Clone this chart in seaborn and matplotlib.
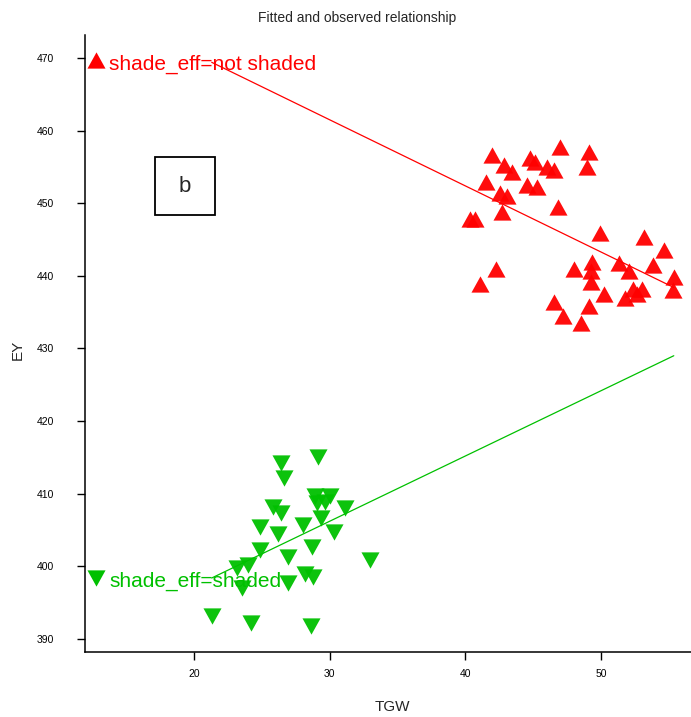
import matplotlib
matplotlib.use("Agg")
import matplotlib.pyplot as plt
from matplotlib.path import Path
from matplotlib.patches import Rectangle
import seaborn as sns
import pandas as pd

# ---- data ----
not_shaded_tgw = [41.97, 47.01, 49.10, 48.98, 44.80, 45.17, 42.83, 43.45, 46.03, 46.52,
                  41.55, 44.55, 45.29, 42.53, 43.08, 46.81, 42.71, 40.37, 40.74, 49.96,
                  53.21, 54.63, 53.82, 51.31, 49.35, 47.99, 49.23, 49.23, 52.05, 42.29,
                  41.06, 55.37, 55.30, 50.26, 52.38, 53.04, 51.81, 52.67, 46.52, 49.10,
                  47.18, 48.54]
not_shaded_ey = [456.6, 457.8, 457.1, 455.0, 456.2, 455.7, 455.3, 454.3, 455.0, 454.6,
                 452.9, 452.5, 452.3, 451.4, 451.0, 449.5, 448.8, 447.8, 447.8, 445.9,
                 445.4, 443.5, 441.5, 441.7, 441.9, 440.9, 440.6, 439.2, 440.6, 441.0,
                 438.9, 439.8, 438.1, 437.5, 438.2, 438.2, 436.9, 437.5, 436.4, 435.8,
                 434.5, 433.5]
shaded_tgw = [26.42, 29.13, 26.66, 25.81, 26.42, 28.93, 29.99, 29.08, 29.67, 31.14,
              29.35, 28.02, 24.87, 26.22, 30.28, 24.87, 28.69, 26.96, 24.01, 23.17,
              23.52, 28.19, 28.80, 26.96, 32.99, 21.31, 24.21, 28.61]
shaded_ey = [414.3, 415.0, 412.1, 408.2, 407.4, 409.7, 409.7, 408.7, 408.9, 408.0,
             406.6, 405.7, 405.4, 404.5, 404.8, 402.3, 402.6, 401.3, 400.2, 399.8,
             397.0, 399.0, 398.5, 397.7, 400.9, 393.2, 392.2, 391.8]
fit_tgw = [21.3, 55.37]
fit_not_shaded_ey = [469.4, 438.4]
fit_shaded_ey = [398.4, 429.0]

group_labels = ["shade_eff=not shaded", "shade_eff=shaded"]
x_ticks = [20, 30, 40, 50]
y_ticks = [390, 400, 410, 420, 430, 440, 450, 460, 470]

RED = "#FF0000"
GREEN = "#00C000"

sns.set_style("ticks")
plt.rcParams["font.family"] = ["Liberation Sans", "DejaVu Sans"]

up = Path([(0, 0.9), (-1, -0.9), (1, -0.9), (0, 0.9)],
          [Path.MOVETO, Path.LINETO, Path.LINETO, Path.CLOSEPOLY])
down = Path([(0, -0.9), (-1, 0.9), (1, 0.9), (0, -0.9)],
            [Path.MOVETO, Path.LINETO, Path.LINETO, Path.CLOSEPOLY])

fig = plt.figure(figsize=(6.91, 7.17), dpi=100)
ax = fig.add_axes([85 / 691, 1 - 652 / 717, 606 / 691, 617 / 717])

df_not = pd.DataFrame({"TGW": not_shaded_tgw, "EY": not_shaded_ey})
df_sh = pd.DataFrame({"TGW": shaded_tgw, "EY": shaded_ey})
fit_df = pd.DataFrame({"TGW": fit_tgw, "not": fit_not_shaded_ey, "sh": fit_shaded_ey})

sns.lineplot(data=fit_df, x="TGW", y="not", color=RED, lw=0.9, ax=ax, zorder=1)
sns.lineplot(data=fit_df, x="TGW", y="sh", color=GREEN, lw=0.9, ax=ax, zorder=1)
sns.scatterplot(data=df_not, x="TGW", y="EY", marker=up, s=169, color=RED,
                linewidth=0, alpha=0.95, ax=ax, zorder=3)
sns.scatterplot(data=df_sh, x="TGW", y="EY", marker=down, s=169, color=GREEN,
                linewidth=0, alpha=0.95, ax=ax, zorder=3)

ax.set_xlim(11.956, 56.64)
ax.set_ylim(388.21, 473.16)
ax.set_xticks(x_ticks)
ax.set_yticks(y_ticks)
ax.tick_params(axis="both", direction="out", length=6, width=1, colors="black",
               labelsize=7.5)
ax.tick_params(axis="y", pad=16)
ax.tick_params(axis="x", pad=6)
for side in ["top", "right"]:
    ax.spines[side].set_visible(False)
for side in ["left", "bottom"]:
    ax.spines[side].set_linewidth(1.1)
    ax.spines[side].set_color("black")

ax.set_xlabel("TGW", fontsize=11)
ax.set_ylabel("EY", fontsize=11)
ax.xaxis.label.set_va("center")
ax.yaxis.label.set_va("center")
ax.xaxis.set_label_coords((392 - 85) / 606, (652 - 707) / 617)
ax.yaxis.set_label_coords((18 - 85) / 606, (652 - 350) / 617)

fig.text(357 / 691, 1 - 18 / 717, "Fitted and observed relationship", ha="center",
         va="center", fontsize=10)

# in-plot group labels
ax.scatter([0.018], [0.959], marker=up, s=169, color=RED, linewidth=0,
           transform=ax.transAxes, clip_on=False, zorder=4)
ax.text(0.0396, 0.953, group_labels[0], color=RED, fontsize=15,
        transform=ax.transAxes, ha="left", va="center")
ax.scatter([0.018], [0.1199], marker=down, s=169, color=GREEN, linewidth=0,
           transform=ax.transAxes, clip_on=False, zorder=4)
ax.text(0.0396, 0.1151, group_labels[1], color=GREEN, fontsize=15,
        transform=ax.transAxes, ha="left", va="center")

# panel letter box
ax.add_patch(Rectangle((0.1155, 0.708), 0.099, 0.094, transform=ax.transAxes,
                       fill=False, edgecolor="black", linewidth=1.3, zorder=5))
ax.text(0.165, 0.755, "b", transform=ax.transAxes, ha="center", va="center",
        fontsize=16, zorder=5)

fig.savefig("out.png", dpi=100)
